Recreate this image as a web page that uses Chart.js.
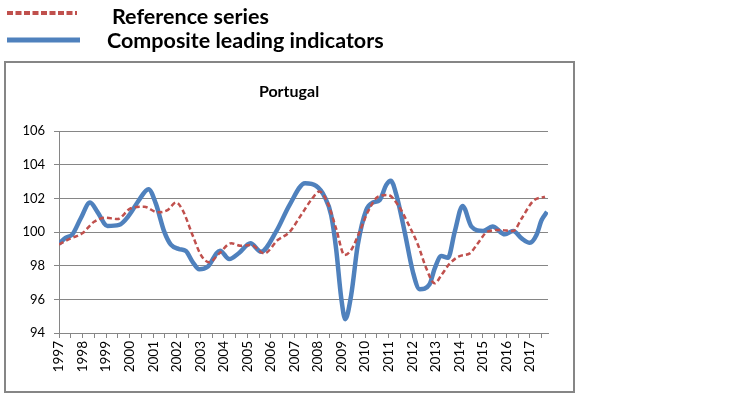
<!DOCTYPE html>
<html>
<head>
<meta charset="utf-8">
<script src="https://cdn.jsdelivr.net/npm/chart.js@4.4.1/dist/chart.umd.min.js"></script>
<style>
  html, body { margin: 0; padding: 0; background: #fff; }
  #wrap { width: 750px; height: 396px; position: relative; }
</style>
</head>
<body>
<div id="wrap"><canvas id="chart" width="750" height="396"></canvas></div>
<script>
// Portugal - reference series vs composite leading indicators (decimal years)
const chartTitle = "Portugal";
const refLabel = "Reference series";
const cliLabel = "Composite leading indicators";

const yTicks = [94, 96, 98, 100, 102, 104, 106];
const yearLabels = ["1997", "1998", "1999", "2000", "2001", "2002", "2003", "2004", "2005", "2006", "2007",
	"2008", "2009", "2010", "2011", "2012", "2013", "2014", "2015", "2016", "2017"];

const cliX = [1997.0, 1997.28, 1997.57, 1997.92, 1998.32, 1998.63, 1999.06, 1999.55, 1999.98, 2000.40, 2000.80,
	2001.11, 2001.47, 2001.75, 2002.1, 2002.39, 2002.67, 2002.96, 2003.31, 2003.84, 2004.23, 2004.66,
	2005.13, 2005.58, 2006.22, 2006.79, 2007.45, 2007.92, 2008.28, 2008.56, 2008.77, 2008.99, 2009.16,
	2009.41, 2009.69, 2010.05, 2010.33, 2010.62, 2010.90, 2011.09, 2011.33, 2011.68, 2012.03, 2012.32,
	2012.74, 2012.96, 2013.24, 2013.52, 2013.81, 2014.14, 2014.52, 2015.01, 2015.41, 2015.94, 2016.29,
	2016.65, 2017.0, 2017.28, 2017.5, 2017.73];
const cliY = [99.3, 99.66, 99.86, 100.8, 101.75, 101.2, 100.36, 100.42, 101.0, 101.9, 102.54,
	101.7, 100.02, 99.25, 98.99, 98.87, 98.23, 97.78, 97.93, 98.89, 98.39, 98.77,
	99.33, 98.83, 100.02, 101.6, 102.9, 102.74, 102.1, 101.0, 99.0, 96.05, 94.82,
	96.25, 99.23, 101.3, 101.75, 101.9, 102.8, 103.05, 102.2, 100.02, 97.64, 96.6,
	96.9, 97.84, 98.57, 98.47, 100.02, 101.55, 100.32, 100.06, 100.32, 99.86, 100.06,
	99.62, 99.36, 99.82, 100.71, 101.2];

const refX = [1997.0, 1997.5, 1997.99, 1998.49, 1998.99, 1999.48, 2000.05, 2000.62, 2001.18, 2001.61, 2001.97,
	2002.25, 2002.67, 2003.03, 2003.38, 2003.81, 2004.31, 2004.73, 2005.16, 2005.72, 2006.29, 2006.79,
	2007.28, 2007.71, 2008.06, 2008.42, 2008.77, 2009.13, 2009.41, 2009.77, 2010.12, 2010.55, 2010.97,
	2011.40, 2011.82, 2012.25, 2012.6, 2012.96, 2013.24, 2013.6, 2014.02, 2014.45, 2014.79, 2015.2,
	2015.72, 2016.29, 2016.65, 2017.14, 2017.64];
const refY = [99.27, 99.62, 99.92, 100.61, 100.85, 100.77, 101.41, 101.5, 101.17, 101.3, 101.75,
	101.3, 99.82, 98.63, 98.2, 98.73, 99.33, 99.18, 99.23, 98.73, 99.52, 100.0,
	101.0, 101.9, 102.4, 101.7, 100.2, 98.63, 98.93, 100.02, 101.2, 102.1, 102.2,
	101.6, 100.52, 99.23, 97.84, 96.95, 97.44, 98.13, 98.57, 98.73, 99.33, 100.02,
	100.12, 100.06, 100.8, 101.84, 102.1];

const FONT = "Lato, 'Open Sans', sans-serif";
const GRID = "#868686";
const BLUE = "#4F81BD";
const RED = "#C0504D";

let toPoints = function(xs, ys) {
	return xs.map(function(x, i) { return { x: x, y: ys[i] }; });
};

// 외곽 박스, 범례, 제목
const decor = {
	id: "decor",
	afterDraw: function(chart) {
		let ctx = chart.ctx;
		ctx.save();
		ctx.strokeStyle = GRID;
		ctx.lineWidth = 2;
		ctx.strokeRect(5, 62, 569, 330);

		ctx.lineWidth = 4;
		ctx.strokeStyle = RED;
		ctx.setLineDash([6, 2.5]);
		ctx.beginPath();
		ctx.moveTo(7, 13);
		ctx.lineTo(77, 13);
		ctx.stroke();

		ctx.setLineDash([]);
		ctx.lineWidth = 5;
		ctx.strokeStyle = BLUE;
		ctx.beginPath();
		ctx.moveTo(7, 40);
		ctx.lineTo(80, 40);
		ctx.stroke();

		ctx.fillStyle = "#000";
		ctx.textBaseline = "alphabetic";
		ctx.textAlign = "left";
		ctx.font = "bold 21.5px " + FONT;
		ctx.fillText(refLabel, 112, 24);
		ctx.fillText(cliLabel, 107, 48);

		ctx.textAlign = "center";
		ctx.font = "bold 16px " + FONT;
		ctx.fillText(chartTitle, 289, 97);
		ctx.restore();
	}
};

new Chart(document.getElementById("chart"), {
	type: "line",
	data: {
		datasets: [
			{
				label: refLabel,
				data: toPoints(refX, refY),
				borderColor: RED,
				borderWidth: 2.5,
				borderDash: [5, 3],
				pointRadius: 0,
				cubicInterpolationMode: "monotone",
				fill: false
			},
			{
				label: cliLabel,
				data: toPoints(cliX, cliY),
				borderColor: BLUE,
				borderWidth: 4.5,
				pointRadius: 0,
				cubicInterpolationMode: "monotone",
				fill: false
			}
		]
	},
	options: {
		responsive: false,
		animation: false,
		layout: { padding: { left: 5, right: 202, top: 131, bottom: 3 } },
		plugins: {
			legend: { display: false },
			title: { display: false },
			tooltip: { enabled: false }
		},
		scales: {
			x: {
				type: "linear",
				min: 1997,
				max: 2017.77,
				afterFit: function(scale) { scale.height = 60; },
				afterBuildTicks: function(scale) {
					let t = [];
					for (let v = 1997; v <= 2017.5; v += 0.5) t.push({ value: v });
					scale.ticks = t;
				},
				ticks: {
					autoSkip: false,
					maxRotation: 90,
					minRotation: 90,
					padding: 3,
					color: "#000",
					font: { family: FONT, size: 13.5 },
					callback: function(v) {
						return Number.isInteger(v) ? yearLabels[v - 1997] : "";
					}
				},
				grid: { drawOnChartArea: false, drawTicks: true, tickLength: 5, color: GRID },
				border: { color: GRID, width: 1 }
			},
			y: {
				min: 94,
				max: 106,
				afterFit: function(scale) { scale.width = 54; },
				afterBuildTicks: function(scale) {
					scale.ticks = yTicks.map(function(v) { return { value: v }; });
				},
				ticks: {
					padding: 9,
					color: "#000",
					font: { family: FONT, size: 13 }
				},
				grid: { color: GRID, tickLength: 5, lineWidth: 1 },
				border: { color: GRID, width: 1 }
			}
		}
	},
	plugins: [decor]
});
</script>
</body>
</html>
